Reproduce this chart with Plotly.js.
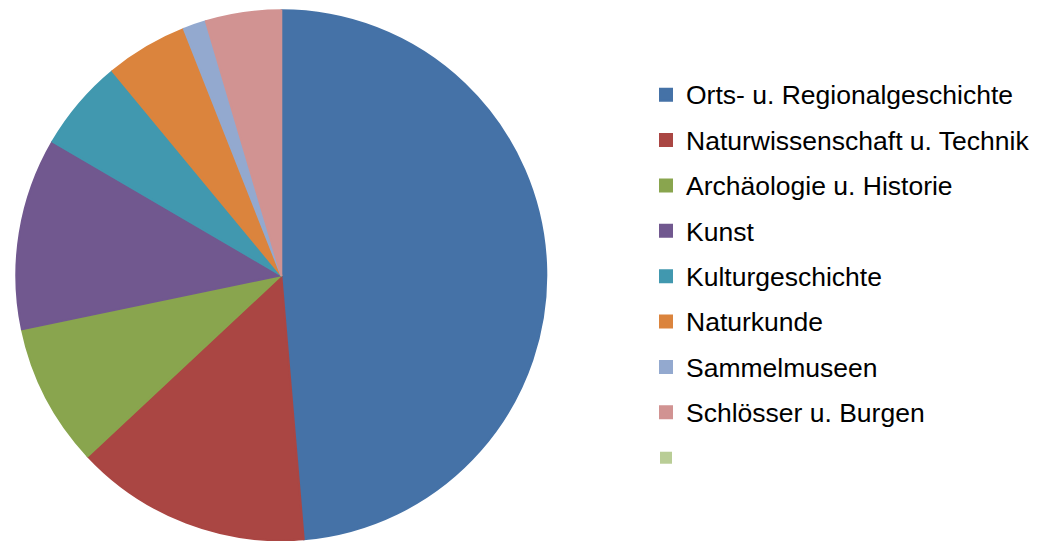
<!DOCTYPE html>
<html>
<head>
<meta charset="utf-8">
<script src="https://cdn.plot.ly/plotly-3.0.1.min.js"></script>
<style>
  html, body { margin: 0; padding: 0; overflow: hidden; background: #fff; }
  #chart { width: 1038px; height: 541px; }
</style>
</head>
<body>
<div id="chart"></div>
<script>
const categories = [
  "Orts- u. Regionalgeschichte",
  "Naturwissenschaft u. Technik",
  "Archäologie u. Historie",
  "Kunst",
  "Kulturgeschichte",
  "Naturkunde",
  "Sammelmuseen",
  "Schlösser u. Burgen",
  " "
];
const values = [487, 144, 87, 117, 56, 50, 14, 46, 0];
const colors = ["#4572A7", "#AA4643", "#89A54E", "#71588F", "#4198AF", "#DB843D", "#93A9CF", "#D19392", "#B9CD96"];

const displayLabels = categories.map(c => '<span style="font-size:26.5px;baseline-shift:3.3px">' + c + '</span>');
const lineWidths = values.map(v => (v > 0 ? 2 : 0));

const trace = {
  type: "pie",
  labels: displayLabels,
  values: values,
  sort: false,
  direction: "clockwise",
  rotation: 0,
  textinfo: "none",
  hoverinfo: "skip",
  marker: { colors: colors, line: { width: lineWidths, color: colors } },
  domain: { x: [16.3 / 1038, 546.3 / 1038], y: [0.7 / 541, 530.7 / 541] },
  showlegend: true
};

const layout = {
  width: 1038,
  height: 541,
  margin: { l: 0, r: 0, t: 0, b: 0, pad: 0 },
  paper_bgcolor: "#ffffff",
  plot_bgcolor: "#ffffff",
  font: { family: "Arial, 'Liberation Sans', sans-serif", color: "#000000" },
  showlegend: true,
  legend: {
    x: 646 / 1038,
    xanchor: "left",
    y: 1 - 67 / 541,
    yanchor: "top",
    font: { size: 32.6, family: "Arial, 'Liberation Sans', sans-serif", color: "#000000" },
    bgcolor: "rgba(0,0,0,0)",
    borderwidth: 0,
    traceorder: "normal"
  }
};

Plotly.newPlot("chart", [trace], layout, { staticPlot: true, displayModeBar: false });
</script>
</body>
</html>
